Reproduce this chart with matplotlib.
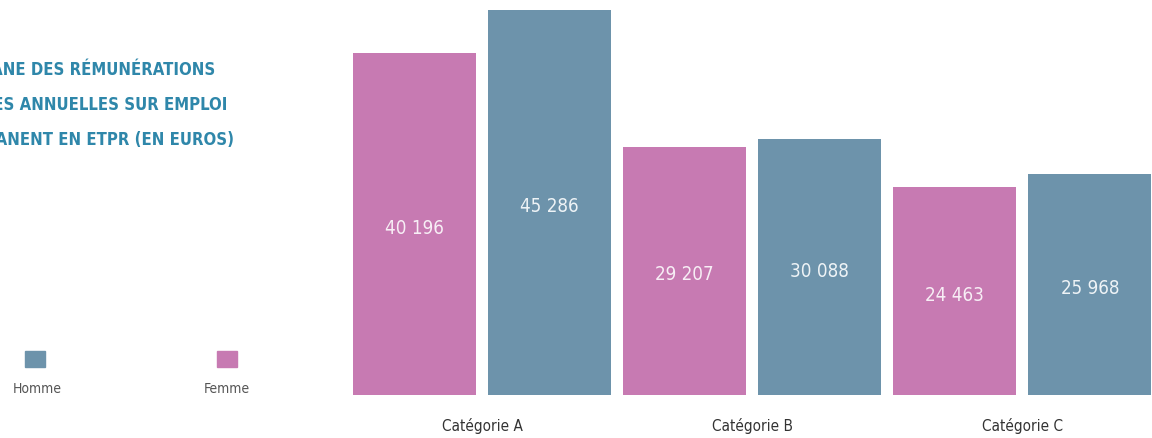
import numpy as np
import matplotlib.pyplot as plt
from matplotlib.patches import Rectangle
from matplotlib.transforms import blended_transform_factory

categories = ['Catégorie A', 'Catégorie B', 'Catégorie C']
femme = [40196, 29207, 24463]
homme = [45286, 30088, 25968]
title_lines = ['MÉDIANE DES RÉMUNÉRATIONS',
               'BRUTES ANNUELLES SUR EMPLOI',
               'PERMANENT EN ETPR (EN EUROS)']

pink = '#c77ab2'
blue = '#6d93ab'
cond = dict(family='DejaVu Sans', fontstretch='condensed')

W, H = 1152, 439
fig = plt.figure(figsize=(W / 100, H / 100), dpi=100)
ax = fig.add_axes([340 / W, 43 / H, (W - 340) / W, 396 / H])

# bars alternate femme / homme, one slot each
pos_f = np.arange(len(categories)) * 2
pos_h = pos_f + 1
ax.bar(pos_f, femme, width=0.91, color=pink)
ax.bar(pos_h, homme, width=0.91, color=blue)

def fmt(v):
    return f'{v:,}'.replace(',', ' ')

for x, v in zip(pos_f, femme):
    ax.text(x, v / 2 - 350, fmt(v), ha='center', va='center', color='#f7eef5',
            fontsize=13.5, **cond)
for x, v in zip(pos_h, homme):
    ax.text(x, v / 2 - 350, fmt(v), ha='center', va='center', color='#eef3f6',
            fontsize=13.5, **cond)

trans = blended_transform_factory(ax.transData, ax.transAxes)
for x, c in zip(pos_f + 0.5, categories):
    ax.text(x, -30 / 396, c, transform=trans, ha='center', va='center',
            color='#333333', fontsize=11, **cond)

ax.set_xlim(-0.553, 5.461)
ax.set_ylim(0, 46590)
ax.axis('off')

# title, clipped by the left edge like the source
for i, line in enumerate(title_lines):
    fig.text(-52 / W, 1 - (70 + i * 35) / H, line, ha='left', va='center',
             color='#2f87aa', fontsize=12, fontweight='bold', **cond)

# legend
for x0, col, lab, tx in [(25, blue, 'Homme', 37), (217, pink, 'Femme', 227)]:
    fig.patches.append(Rectangle((x0 / W, 1 - 368 / H), 20 / W, 16 / H,
                                 transform=fig.transFigure, color=col))
    fig.text(tx / W, 1 - 389 / H, lab, ha='center', va='center',
             color='#555555', fontsize=10, **cond)

fig.savefig('out.png', dpi=100)
